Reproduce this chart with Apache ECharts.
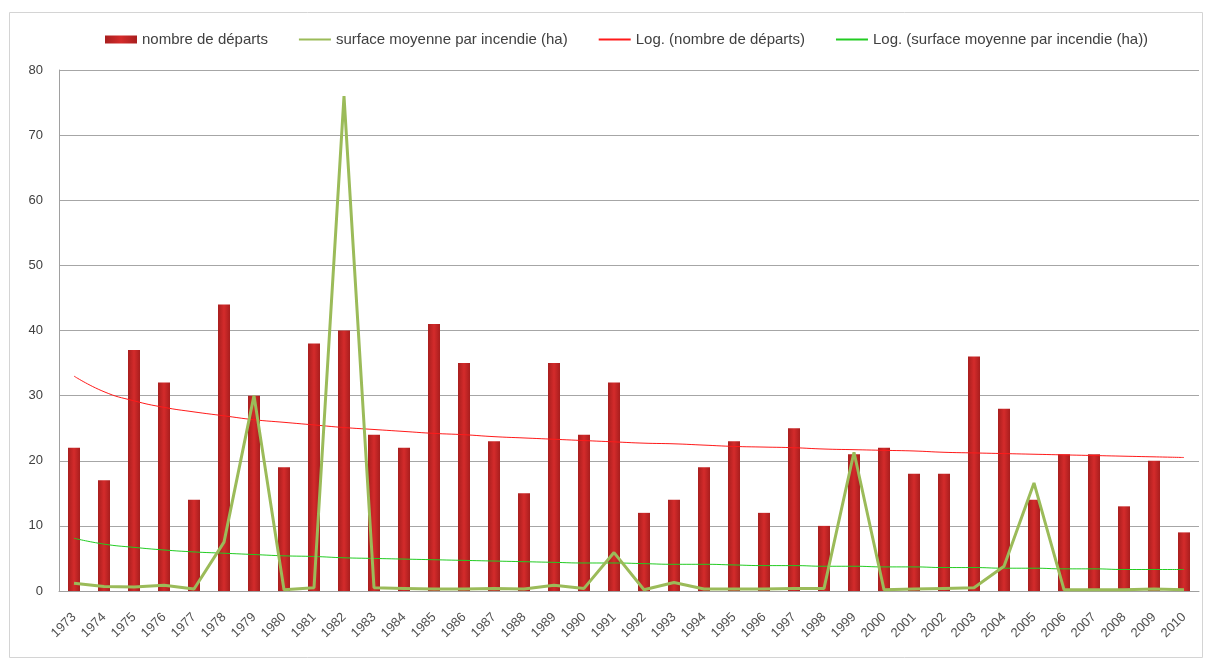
<!DOCTYPE html>
<html><head><meta charset="utf-8">
<script src="https://cdn.jsdelivr.net/npm/echarts@6/dist/echarts.min.js"></script>
<style>html,body{margin:0;padding:0;background:#fff}#c{width:1205px;height:659px}</style>
</head><body><div id="c"></div>
<script>
const years = ['1973','1974','1975','1976','1977','1978','1979','1980','1981','1982','1983','1984','1985','1986','1987','1988','1989','1990','1991','1992','1993','1994','1995','1996','1997','1998','1999','2000','2001','2002','2003','2004','2005','2006','2007','2008','2009','2010'];
const departs = [22,17,37,32,14,44,30,19,38,40,24,22,41,35,23,15,35,24,32,12,14,19,23,12,25,10,21,22,18,18,36,28,14,21,21,13,20,9];
const surface = [1.2,0.7,0.6,0.9,0.3,7.5,30,0.2,0.5,76,0.5,0.4,0.3,0.3,0.4,0.3,0.9,0.4,5.9,0.2,1.3,0.3,0.3,0.3,0.4,0.4,21.3,0.2,0.3,0.4,0.5,3.8,16.6,0.2,0.2,0.2,0.3,0.2];
const logDeparts = [33,30.6,29.2,28.2,27.5,26.9,26.3,25.9,25.5,25.1,24.8,24.5,24.2,24.0,23.7,23.5,23.3,23.1,22.9,22.7,22.6,22.4,22.2,22.1,22.0,21.8,21.7,21.6,21.5,21.3,21.2,21.1,21.0,20.9,20.8,20.7,20.6,20.5];
const logSurface = [8.1,7.2,6.7,6.3,6.0,5.8,5.6,5.4,5.3,5.1,5.0,4.9,4.8,4.7,4.6,4.5,4.4,4.3,4.3,4.2,4.1,4.1,4.0,3.9,3.9,3.8,3.8,3.7,3.7,3.6,3.6,3.5,3.5,3.4,3.4,3.3,3.3,3.3];
const yTicks = {min:0, max:80, interval:10};
const names = ['nombre de départs','surface moyenne par incendie (ha)','Log. (nombre de départs)','Log. (surface moyenne par incendie (ha))'];

const chart = echarts.init(document.getElementById('c'), null, {renderer:'canvas'});
const font = 'Liberation Sans, Arial, sans-serif';
const hideSym = {opacity:0, borderWidth:0};
chart.setOption({
  animation:false,
  backgroundColor:'#fff',
  graphic:[{type:'rect',shape:{x:9.5,y:12.5,width:1193,height:645},style:{fill:'none',stroke:'#d4d4d4',lineWidth:1},z:-1}],
  legend:{
    top:27, left:100, itemGap:30, itemWidth:32, itemHeight:8,
    textStyle:{color:'#404040',fontSize:15,fontFamily:font},
    data:[{name:names[0],icon:'rect'},{name:names[1],itemStyle:hideSym},{name:names[2],itemStyle:hideSym},{name:names[3],itemStyle:hideSym}]
  },
  grid:{left:59,right:6,top:70,bottom:68,containLabel:false},
  xAxis:{
    type:'category', data:years, boundaryGap:true,
    axisLine:{lineStyle:{color:'#a0a0a0'}},
    axisTick:{show:false},
    axisLabel:{rotate:45,color:'#505050',fontSize:13,fontFamily:font,margin:24,interval:0}
  },
  yAxis:{
    type:'value', min:yTicks.min, max:yTicks.max, interval:yTicks.interval,
    axisLine:{show:true,lineStyle:{color:'#a0a0a0'}},
    axisTick:{show:false},
    splitLine:{lineStyle:{color:'#a6a6a6',width:1}},
    axisLabel:{color:'#404040',fontSize:13,fontFamily:font,margin:16}
  },
  series:[
    {name:names[0],type:'bar',data:departs,barWidth:12,
     itemStyle:{color:new echarts.graphic.LinearGradient(0,0,1,0,[{offset:0,color:'#a81e1e'},{offset:0.5,color:'#d42b2b'},{offset:1,color:'#a81e1e'}])},
     z:2},
    {name:names[1],type:'line',data:surface,symbol:'none',
     lineStyle:{color:'#9bbb59',width:3},itemStyle:{color:'#9bbb59'},z:4},
    {name:names[2],type:'line',data:logDeparts,symbol:'none',smooth:true,
     lineStyle:{color:'#ff1a1a',width:1},itemStyle:{color:'#ff1a1a'},z:3},
    {name:names[3],type:'line',data:logSurface,symbol:'none',smooth:true,
     lineStyle:{color:'#22cc22',width:1},itemStyle:{color:'#22cc22'},z:3}
  ]
});
</script></body></html>
